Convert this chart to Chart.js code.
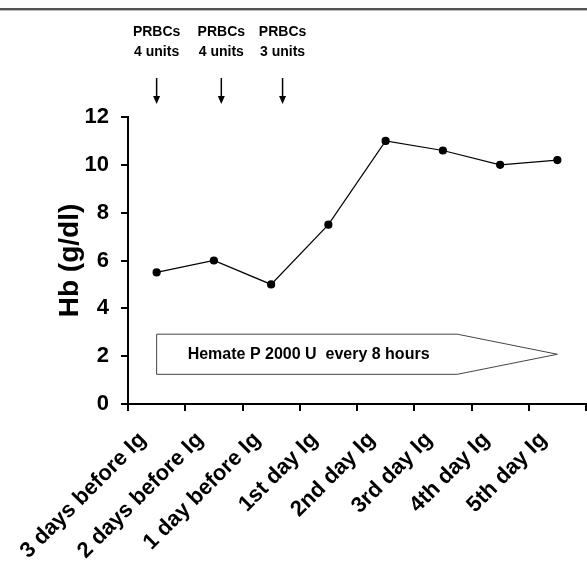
<!DOCTYPE html>
<html>
<head>
<meta charset="utf-8">
<script src="https://cdn.jsdelivr.net/npm/chart.js@4/dist/chart.umd.min.js"></script>
<style>
  html, body { margin: 0; padding: 0; background: #fff; }
  #wrap { width: 587px; height: 562px; }
</style>
</head>
<body>
<div id="wrap"><canvas id="hbChart" width="587" height="562"></canvas></div>
<script>
// ── DATA ──────────────────────────────────────────────
const categories = ['3 days before Ig', '2 days before Ig', '1 day before Ig', '1st day Ig',
  '2nd day Ig', '3rd day Ig', '4th day Ig', '5th day Ig'];
const hbValues = [5.5, 6.0, 5.0, 7.5, 11.0, 10.6, 10.0, 10.2];
const yTicks = [0, 2, 4, 6, 8, 10, 12];
const prbcLabels = ['PRBCs', 'PRBCs', 'PRBCs'];
const prbcUnits = ['4 units', '4 units', '3 units'];
const prbcAt = [0, 1.13, 2.2];           // position on the category scale
const hemateText = 'Hemate P 2000 U  every 8 hours';

const FONT = '"Liberation Sans", Arial, sans-serif';

// ── ANNOTATIONS (arrows, box, top rule) ───────────────
const annotations = {
  id: 'annotations',
  beforeDatasetsDraw(chart) {
    const { ctx, scales: { x, y } } = chart;
    // hemate arrow box
    const x0 = x.getPixelForValue(0), xr = x.getPixelForValue(5.25), xt = x.getPixelForValue(7);
    const yt = y.getPixelForValue(2.92), yb = y.getPixelForValue(1.24), ym = y.getPixelForValue(2.08);
    ctx.save();
    ctx.beginPath();
    ctx.moveTo(x0, yt);
    ctx.lineTo(xr, yt);
    ctx.lineTo(xt, ym);
    ctx.lineTo(xr, yb);
    ctx.lineTo(x0, yb);
    ctx.closePath();
    ctx.fillStyle = '#fff';
    ctx.fill();
    ctx.strokeStyle = '#444';
    ctx.lineWidth = 1;
    ctx.stroke();
    ctx.fillStyle = '#000';
    ctx.font = 'bold 16px ' + FONT;
    ctx.textBaseline = 'middle';
    ctx.textAlign = 'left';
    ctx.fillText(hemateText, x0 + 31, (yt + yb) / 2);
    ctx.restore();
  },
  afterDraw(chart) {
    const { ctx, scales: { x } } = chart;
    ctx.save();
    // top rule
    ctx.fillStyle = '#555';
    ctx.fillRect(0, 8, chart.width, 2);
    ctx.fillStyle = '#bbb';
    ctx.fillRect(0, 10, chart.width, 1);
    // PRBC labels + arrows
    ctx.fillStyle = '#000';
    ctx.strokeStyle = '#000';
    ctx.font = 'bold 14px ' + FONT;
    ctx.textAlign = 'center';
    ctx.textBaseline = 'middle';
    prbcAt.forEach((v, i) => {
      const px = x.getPixelForValue(v);
      ctx.fillText(prbcLabels[i], px, 32);
      ctx.fillText(prbcUnits[i], px, 52);
      ctx.lineWidth = 1.5;
      ctx.beginPath();
      ctx.moveTo(px, 78);
      ctx.lineTo(px, 98);
      ctx.stroke();
      ctx.beginPath();
      ctx.moveTo(px - 3.5, 96);
      ctx.lineTo(px + 3.5, 96);
      ctx.lineTo(px, 104);
      ctx.closePath();
      ctx.fill();
    });
    ctx.restore();
  }
};

// ── CHART ─────────────────────────────────────────────
new Chart(document.getElementById('hbChart'), {
  type: 'line',
  data: {
    labels: categories,
    datasets: [{
      data: hbValues,
      borderColor: '#000',
      borderWidth: 1.2,
      pointRadius: 3.5,
      pointBackgroundColor: '#000',
      pointBorderColor: '#000',
      tension: 0,
      clip: false
    }]
  },
  options: {
    responsive: false,
    animation: false,
    layout: { autoPadding: false, padding: { top: 117, right: 1, left: 53, bottom: 0 } },
    plugins: { legend: { display: false }, tooltip: { enabled: false } },
    scales: {
      x: {
        type: 'category',
        offset: true,
        afterFit: s => { s.height = 158; s.paddingLeft = 0; s.paddingRight = 0; },
        grid: { drawOnChartArea: false, drawTicks: true, tickLength: 7, color: '#000', lineWidth: 2, offset: true },
        border: { display: true, color: '#000', width: 2 },
        ticks: {
          color: '#000',
          minRotation: 45,
          maxRotation: 45,
          padding: 16,
          labelOffset: -14,
          font: { family: FONT, size: 22, weight: 'bold' }
        }
      },
      y: {
        min: 0,
        max: 12,
        afterFit: s => { s.width = 75; },
        afterBuildTicks: s => { s.ticks = yTicks.map(v => ({ value: v })); },
        grid: { drawOnChartArea: false, drawTicks: true, tickLength: 7, color: '#000', lineWidth: 2 },
        border: { display: true, color: '#000', width: 2 },
        ticks: {
          color: '#000',
          padding: 12,
          font: { family: FONT, size: 22, weight: 'bold' }
        },
        title: {
          display: true,
          text: 'Hb (g/dl)',
          color: '#000',
          padding: 0,
          font: { family: FONT, size: 28, weight: 'bold' }
        }
      }
    }
  },
  plugins: [annotations]
});
</script>
</body>
</html>
